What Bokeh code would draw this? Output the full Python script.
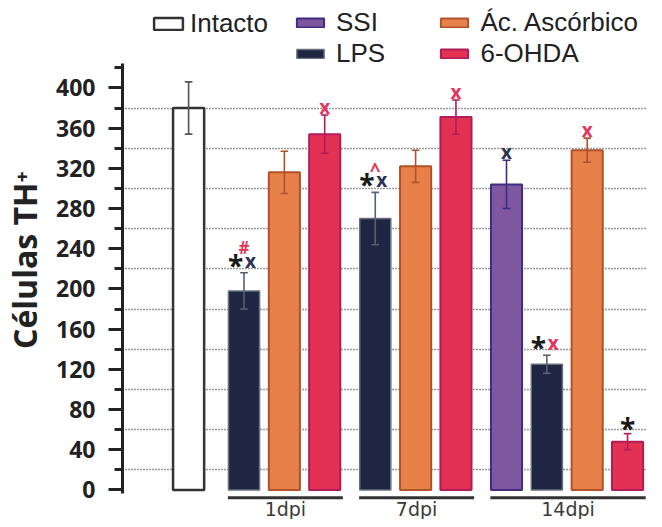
from bokeh.plotting import figure
from bokeh.models import (ColumnDataSource, Range1d, FixedTicker, Legend, LegendItem)
from bokeh.core.properties import value
from bokeh.embed import file_html
from bokeh.resources import INLINE

# ---------------- data ----------------
groups = ["1dpi", "7dpi", "14dpi"]
series_names = ["Intacto", "SSI", "LPS", "Ác. Ascórbico", "6-OHDA"]

intacto_mean = 380
intacto_sem = 26

ssi_mean = [None, None, 304]
ssi_sem = [None, None, 24]

lps_mean = [198, 270, 125]
lps_sem = [18, 26, 9]

acido_mean = [316, 322, 338]
acido_sem = [21, 16, 12]

ohda_mean = [354, 371, 48]
ohda_sem = [19, 17, 8]

y_ticks = [0, 40, 80, 120, 160, 200, 240, 280, 320, 360, 400]
y_minor = [20, 60, 100, 140, 180, 220, 260, 300, 340, 380, 420]
grid_levels = [20, 60, 100, 140, 180, 220, 260, 300, 340, 380]

# significance marks: (series, group, row marks, top mark)
marks = [
    ("LPS", "1dpi", [("*", "black"), ("x", "navy")], ("#", "red")),
    ("6-OHDA", "1dpi", [("x", "red")], None),
    ("LPS", "7dpi", [("*", "black"), ("x", "navy")], ("^", "red")),
    ("6-OHDA", "7dpi", [("x", "red")], None),
    ("SSI", "14dpi", [("x", "navy")], None),
    ("Ác. Ascórbico", "14dpi", [("x", "red")], None),
    ("LPS", "14dpi", [("*", "black"), ("x", "red")], None),
    ("6-OHDA", "14dpi", [("*", "black")], None),
]

# ---------------- styles ----------------
fill = {"Intacto": "white", "SSI": "#7f56a0", "LPS": "#1e2643",
        "Ác. Ascórbico": "#e8804a", "6-OHDA": "#e23153"}
edge = {"Intacto": "#333333", "SSI": "#3e2d80", "LPS": "#6a7080",
        "Ác. Ascórbico": "#b0522a", "6-OHDA": "#b01d58"}
errc = {"Intacto": "#555555", "SSI": "#3e2d80", "LPS": "#5a6070",
        "Ác. Ascórbico": "#b0522a", "6-OHDA": "#b01d58"}
mark_color = {"black": "#1a1a1a", "navy": "#2b3358", "red": "#e2365a"}

# ---------------- layout (x in bar-pitch units) ----------------
PX = 41.5              # pixels per unit
BAR_W = 32 / PX
GROUP_GAP = 52 / PX
INTACTO_X = -57 / PX

by_series = {
    "SSI": (ssi_mean, ssi_sem),
    "LPS": (lps_mean, lps_sem),
    "Ác. Ascórbico": (acido_mean, acido_sem),
    "6-OHDA": (ohda_mean, ohda_sem),
}

bars = [{"series": "Intacto", "group": None, "x": INTACTO_X,
         "mean": intacto_mean, "sem": intacto_sem}]
group_span = {}
pos = 0.0
for gi, g in enumerate(groups):
    if gi > 0:
        pos += GROUP_GAP
    first = pos
    members = [s for s in ["SSI", "LPS", "Ác. Ascórbico", "6-OHDA"]
               if by_series[s][0][gi] is not None]
    for k, s in enumerate(members):
        if k > 0:
            pos += 1.0
        bars.append({"series": s, "group": g, "x": pos,
                     "mean": by_series[s][0][gi], "sem": by_series[s][1][gi]})
    group_span[g] = (first, pos)

W, H = 646, 519
FRAME_LEFT = 107
frame_w = W - FRAME_LEFT
x_start = (115 - 240) / PX
x_end = x_start + frame_w / PX
PXY = 1.005
y0_canvas = 489.4
y_end = y0_canvas / PXY
y_start = -(H - y0_canvas) / PXY

p = figure(width=W, height=H, output_backend="svg", toolbar_location=None,
           x_range=Range1d(x_start, x_end), y_range=Range1d(y_start, y_end),
           x_axis_type=None, min_border_left=FRAME_LEFT, min_border_right=0,
           min_border_top=0, min_border_bottom=0)
p.outline_line_color = None
p.background_fill_color = "white"
p.border_fill_color = "white"

# grid
p.ygrid.ticker = FixedTicker(ticks=grid_levels)
p.ygrid.grid_line_color = "#3a3a3a"
p.ygrid.grid_line_dash = "1 2"
p.ygrid.grid_line_width = 1.5

# y axis
ax = p.yaxis[0]
ax.ticker = FixedTicker(ticks=y_ticks, minor_ticks=y_minor)
ax.bounds = (-3.5, 424)
ax.axis_line_width = 3
ax.axis_line_color = "#222222"
ax.major_tick_line_width = 3
ax.minor_tick_line_width = 3
ax.major_tick_line_color = "#222222"
ax.minor_tick_line_color = "#222222"
ax.major_tick_out = 14
ax.major_tick_in = 0
ax.minor_tick_out = 8
ax.minor_tick_in = 0
ax.major_label_text_font = "Open Sans"
ax.major_label_text_font_style = "bold"
ax.major_label_text_font_size = "23px"
ax.major_label_text_color = "#222222"
ax.major_label_standoff = 13
ax.axis_label = "Células TH⁺"
ax.axis_label_text_font = "Open Sans"
ax.axis_label_text_font_style = "bold"
ax.axis_label_text_font_size = "32px"
ax.axis_label_text_color = "#222222"
ax.axis_label_standoff = 7

# bars + error bars
renderers = {}
for s in series_names:
    sel = [b for b in bars if b["series"] == s]
    src = ColumnDataSource(dict(
        x=[b["x"] for b in sel],
        top=[b["mean"] for b in sel],
        lo=[b["mean"] - b["sem"] for b in sel],
        hi=[b["mean"] + b["sem"] for b in sel],
        cl=[b["x"] - 0.095 for b in sel],
        cr=[b["x"] + 0.095 for b in sel],
    ))
    lw = 2.5 if s == "Intacto" else (1.5 if s == "LPS" else 2)
    r = p.vbar(x="x", top="top", bottom=0, width=BAR_W, source=src,
               fill_color=fill[s], line_color=edge[s], line_width=lw)
    renderers[s] = r
    p.segment(x0="x", x1="x", y0="lo", y1="hi", source=src,
              line_color=errc[s], line_width=1.6)
    p.segment(x0="cl", x1="cr", y0="hi", y1="hi", source=src,
              line_color=errc[s], line_width=1.6)
    p.segment(x0="cl", x1="cr", y0="lo", y1="lo", source=src,
              line_color=errc[s], line_width=1.6)

# significance marks
sym_style = {"*": ("28px", 4), "x": ("19px", 0), "#": ("17px", 0), "^": ("19px", 3)}
mx, my, mt, mc, mxo, myo, msz = [], [], [], [], [], [], []
for s, g, row, top in marks:
    b = [bb for bb in bars if bb["series"] == s and bb["group"] == g][0]
    errtop = b["mean"] + b["sem"]
    has_star = any(t == "*" for t, _ in row)
    gap = 12 if (has_star and len(row) > 1) else (10 if has_star else 8)
    offs = [0] if len(row) == 1 else [-8.5, 6.5]
    for (t, c), dx in zip(row, offs):
        size, cy = sym_style[t]
        mx.append(b["x"]); my.append(errtop); mt.append(t); mc.append(mark_color[c])
        mxo.append(dx); myo.append(-gap + cy); msz.append(size)
    if top is not None:
        t, c = top
        size, cy = sym_style[t]
        mx.append(b["x"]); my.append(errtop); mt.append(t); mc.append(mark_color[c])
        mxo.append(0); myo.append(-25 + cy); msz.append(size)
msrc = ColumnDataSource(dict(x=mx, y=my, text=mt, color=mc, xo=mxo, yo=myo, size=msz))
p.text(x="x", y="y", text="text", source=msrc, text_color="color",
       x_offset="xo", y_offset="yo", text_font_size="size",
       text_font=value("Open Sans"), text_font_style="bold",
       text_align="center", text_baseline="alphabetic")

# group underlines and labels
gx0 = [group_span[g][0] - 0.4 for g in groups]
gx1 = [group_span[g][1] + 0.45 for g in groups]
gsrc = ColumnDataSource(dict(x0=gx0, x1=gx1, xm=[(a + b) / 2 for a, b in zip(gx0, gx1)],
                             y=[-7.9] * len(groups), ty=[-19.0] * len(groups), label=groups))
p.segment(x0="x0", x1="x1", y0="y", y1="y", source=gsrc, line_color="#333333", line_width=3)
p.text(x="xm", y="ty", text="label", source=gsrc, text_align="center",
       text_baseline="middle", text_font=value("DejaVu Sans"),
       text_font_size="19px", text_color="#3a3a3a")

# legends (inside frame, above the plotted area); location = bottom-left in px from frame bottom-left
common = dict(border_line_alpha=0, background_fill_alpha=0, padding=0, margin=0,
              spacing=0, label_text_font="Liberation Sans", label_text_font_size="26px",
              label_text_color="#222222")
leg1 = Legend(items=[LegendItem(label="Intacto", renderers=[renderers["Intacto"]])],
              location=(28, H - 10 - 29), glyph_width=36, glyph_height=15, label_standoff=4, **common)
leg2 = Legend(items=[LegendItem(label="SSI", renderers=[renderers["SSI"]]),
                     LegendItem(label="LPS", renderers=[renderers["LPS"]])],
              location=(171, H - 11 - 58), glyph_width=34, glyph_height=11, label_standoff=9, **common)
leg3 = Legend(items=[LegendItem(label="Ác. Ascórbico", renderers=[renderers["Ác. Ascórbico"]]),
                     LegendItem(label="6-OHDA", renderers=[renderers["6-OHDA"]])],
              location=(314.5, H - 11 - 58), glyph_width=34, glyph_height=11, label_standoff=10, **common)
for lg in (leg1, leg2, leg3):
    p.add_layout(lg)

open("out.html", "w").write(file_html(p, INLINE))
